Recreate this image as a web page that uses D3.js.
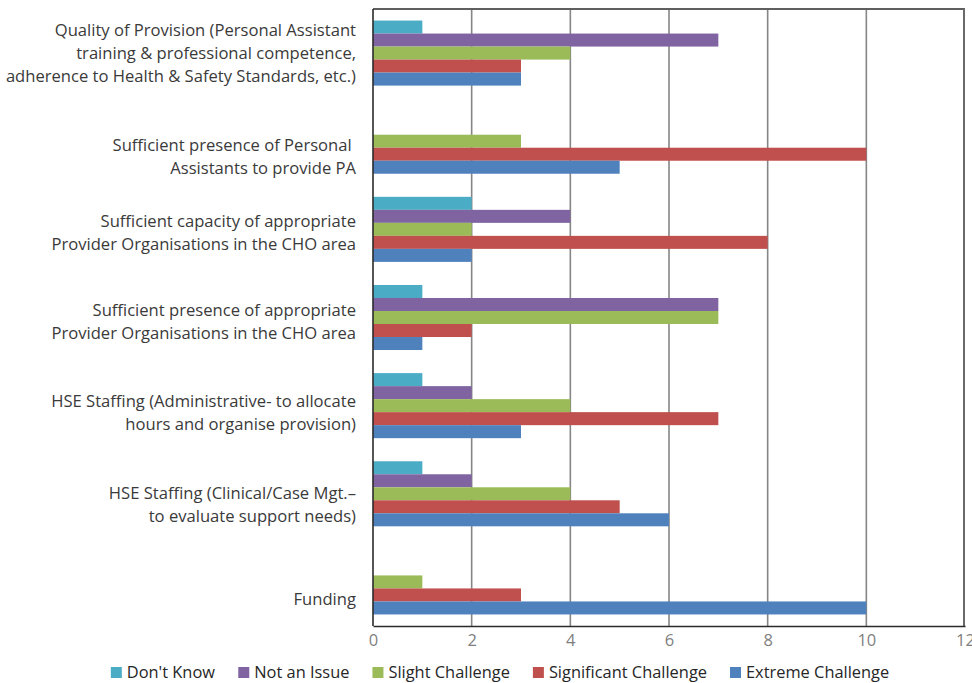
<!DOCTYPE html>
<html>
<head>
<meta charset="utf-8">
<script src="https://cdn.jsdelivr.net/npm/d3@7"></script>
<style>
  html, body { margin: 0; padding: 0; background: #fff; }
  svg { display: block; }
  text { font-family: "Open Sans", "Noto Sans", sans-serif; }
</style>
</head>
<body>
<svg id="chart" width="972" height="683"></svg>
<script>
// ---- data ----
const categories = [
  "Quality of Provision",
  "Sufficient presence of Personal Assistants",
  "Sufficient capacity of Provider Organisations",
  "Sufficient presence of Provider Organisations",
  "HSE Staffing (Administrative)",
  "HSE Staffing (Clinical/Case Mgt.)",
  "Funding"
];
const categoryLabelLines = [
  ["Quality of Provision (Personal Assistant", "training & professional competence,", "adherence to Health & Safety Standards, etc.)"],
  ["Sufficient presence of Personal ", "Assistants to provide PA"],
  ["Sufficient capacity of appropriate", "Provider Organisations in the CHO area"],
  ["Sufficient presence of appropriate", "Provider Organisations in the CHO area"],
  ["HSE Staffing (Administrative- to allocate", "hours and organise provision)"],
  ["HSE Staffing (Clinical/Case Mgt.\u2013", "to evaluate support needs)"],
  ["Funding"]
];
const seriesNames = ["Don't Know", "Not an Issue", "Slight Challenge", "Significant Challenge", "Extreme Challenge"];
const dontKnow            = [1, 0, 2, 1, 1, 1, 0];
const notAnIssue          = [7, 0, 4, 7, 2, 2, 0];
const slightChallenge     = [4, 3, 2, 7, 4, 4, 1];
const significantChallenge= [3, 10, 8, 2, 7, 5, 3];
const extremeChallenge    = [3, 5, 2, 1, 3, 6, 10];
const xTicks = [0, 2, 4, 6, 8, 10, 12];

// ---- layout / style ----
const seriesValues = [dontKnow, notAnIssue, slightChallenge, significantChallenge, extremeChallenge];
const colors = ["#4BACC6", "#8064A2", "#9BBB59", "#C0504D", "#4F81BD"];
const labelShift = [0, 15, 3, 4, 6.5, 10.5, 17];
const plot = { left: 373, right: 965, top: 9, bottom: 626 };

const svg = d3.select("#chart");

const x = d3.scaleLinear().domain([0, 12]).range([plot.left, plot.right]);
const y = d3.scaleBand().domain(categories).range([plot.top, plot.bottom]).padding(0);
const bw = y.bandwidth();
const ySub = d3.scaleBand().domain(seriesNames).range([bw * 0.131, bw * 0.869]).padding(0);

// gridlines
svg.append("g")
  .selectAll("line")
  .data(xTicks.filter(t => t > 0 && t < 12))
  .join("line")
  .attr("x1", d => x(d)).attr("x2", d => x(d))
  .attr("y1", plot.top).attr("y2", plot.bottom)
  .attr("stroke", "#868686").attr("stroke-width", 1.6);

// bars
const groups = svg.append("g")
  .selectAll("g")
  .data(categories)
  .join("g")
  .attr("transform", d => `translate(0,${y(d)})`);

groups.selectAll("rect")
  .data((c, i) => seriesNames.map((s, j) => ({ s, v: seriesValues[j][i], j })))
  .join("rect")
  .attr("x", x(0))
  .attr("y", d => ySub(d.s))
  .attr("width", d => x(d.v) - x(0))
  .attr("height", ySub.bandwidth())
  .attr("fill", d => colors[d.j]);

// plot border (top, right)
svg.append("line")
  .attr("x1", plot.left).attr("x2", plot.right)
  .attr("y1", plot.top).attr("y2", plot.top)
  .attr("stroke", "#5f5f5f").attr("stroke-width", 2);
svg.append("line")
  .attr("x1", plot.right - 1).attr("x2", plot.right - 1)
  .attr("y1", plot.top).attr("y2", plot.bottom)
  .attr("stroke", "#6a6a6a").attr("stroke-width", 2);

// x axis
const xAxis = d3.axisBottom(x).tickValues(xTicks).tickSize(0).tickPadding(8);
const gx = svg.append("g")
  .attr("transform", `translate(0,${plot.bottom})`)
  .call(xAxis);
gx.select(".domain").attr("stroke", "#2b2b2b").attr("stroke-width", 1.6);
gx.selectAll("text")
  .attr("fill", "#7f7f7f")
  .style("font-family", "'Open Sans', sans-serif")
  .style("font-size", "16.5px");

// y axis line
svg.append("line")
  .attr("x1", plot.left).attr("x2", plot.left)
  .attr("y1", plot.top).attr("y2", plot.bottom)
  .attr("stroke", "#2b2b2b").attr("stroke-width", 1.6);

// category labels
const lineH = 23;
const labels = svg.append("g")
  .selectAll("text")
  .data(categories)
  .join("text")
  .attr("text-anchor", "end")
  .attr("fill", "#3a3a3a")
  .style("font-size", "16.6px");
labels.each(function (c, i) {
  const lines = categoryLabelLines[i];
  const cy = y(c) + bw / 2 + labelShift[i];
  const startY = cy - (lines.length - 1) * lineH / 2;
  d3.select(this).selectAll("tspan")
    .data(lines)
    .join("tspan")
    .attr("x", 356)
    .attr("y", (d, k) => startY + k * lineH)
    .attr("dy", "0.36em")
    .style("white-space", "pre")
    .text(d => d);
});

// legend
const legendY = 672;
const legend = svg.append("g");
const items = legend.selectAll("g")
  .data(seriesNames)
  .join("g");
items.append("rect")
  .attr("width", 11).attr("height", 11)
  .attr("y", legendY - 5)
  .attr("fill", (d, i) => colors[i]);
items.append("text")
  .attr("x", 16)
  .attr("y", legendY)
  .attr("dy", "0.36em")
  .attr("fill", "#262626")
  .style("font-size", "16.4px")
  .text(d => d);
let cursor = 0;
const widths = [];
items.each(function () {
  widths.push(this.getBBox().width);
});
const gap = 23;
const total = d3.sum(widths) + gap * (widths.length - 1);
cursor = 500 - total / 2;
items.attr("transform", (d, i) => {
  const tx = cursor;
  cursor += widths[i] + gap;
  return `translate(${tx},0)`;
});
</script>
</body>
</html>
